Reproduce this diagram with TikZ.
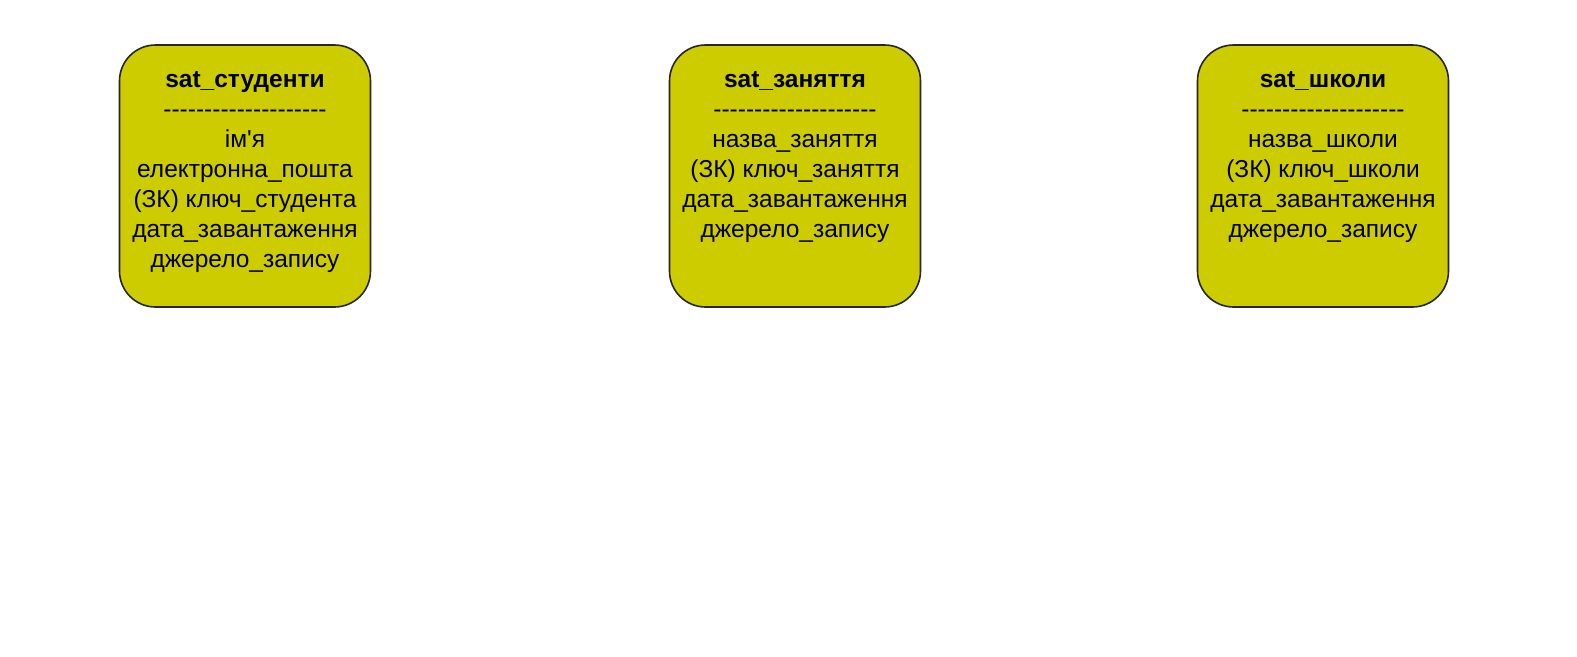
\documentclass[tikz,border=0pt]{standalone}
\usepackage{fontspec}
\setmainfont{Liberation Sans}[Ligatures=TeXOff]
\usetikzlibrary{positioning}

\definecolor{satfill}{HTML}{CCCC00}
\definecolor{satline}{HTML}{262626}

\tikzset{
  satbox/.style={draw=satline, line width=1.6pt, fill=satfill, rounded corners=36pt,
    minimum width=251pt, minimum height=262pt, inner sep=0pt},
  sattext/.style={align=center, inner sep=0pt,
    font=\fontsize{24.5pt}{30pt}\selectfont}
}

\begin{document}
\begin{tikzpicture}[x=1pt, y=-1pt]
    \useasboundingbox (0, 0) rectangle (1577, 656);

    % sat_студенти
    \node[satbox] (stud) at (245, 176) {};
    \node[sattext, below=27pt of stud.north] (studtext)
      {\textbf{sat\_студенти}\\--------------------\\ім'я\\електронна\_пошта\\(ЗК) ключ\_студента\\дата\_завантаження\\джерело\_запису};

    % sat_заняття
    \node[satbox] (lesson) at (795, 176) {};
    \node[sattext, below=27pt of lesson.north] (lessontext)
      {\textbf{sat\_заняття}\\--------------------\\назва\_заняття\\(ЗК) ключ\_заняття\\дата\_завантаження\\джерело\_запису};

    % sat_школи
    \node[satbox] (school) at (1323, 176) {};
    \node[sattext, below=27pt of school.north] (schooltext)
      {\textbf{sat\_школи}\\--------------------\\назва\_школи\\(ЗК) ключ\_школи\\дата\_завантаження\\джерело\_запису};

\end{tikzpicture}
\end{document}
